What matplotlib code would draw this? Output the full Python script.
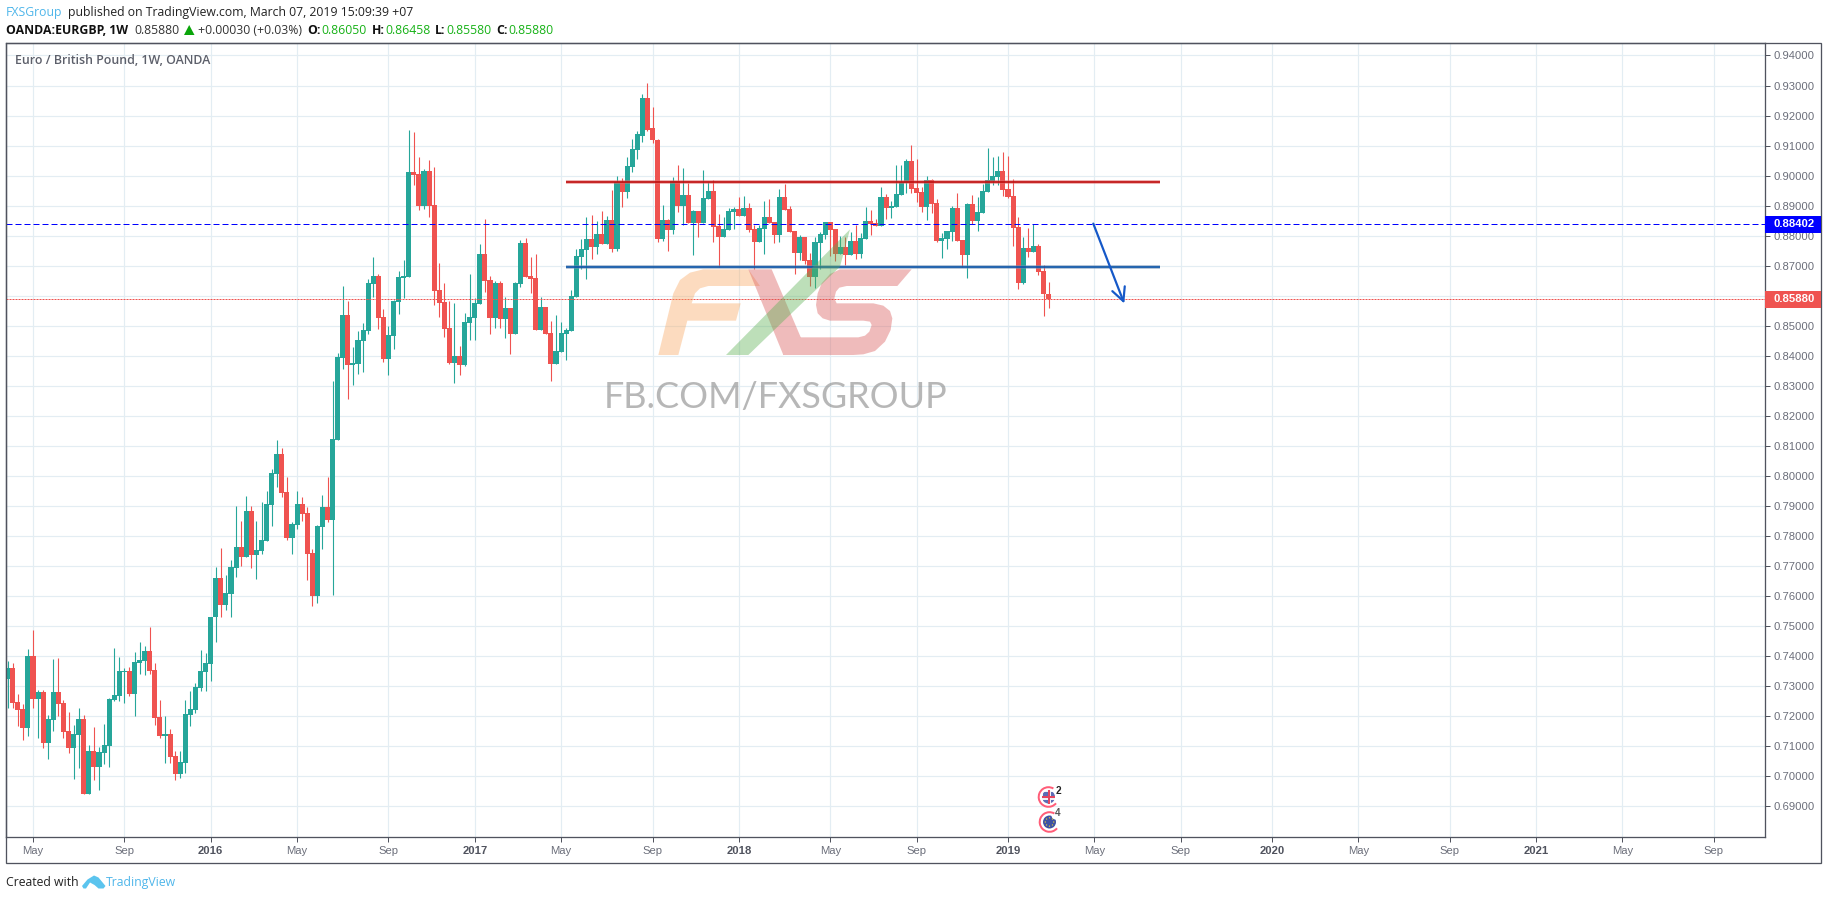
import matplotlib
matplotlib.use("Agg")
import numpy as np
import matplotlib.pyplot as plt
from matplotlib.patches import Polygon, Rectangle, Circle, Wedge, PathPatch
from matplotlib.path import Path
from matplotlib.transforms import Affine2D

# Weekly EURGBP candles
opens = [
    .7322, .7359, .7246, .7222, .7159, .7399, .7256, .7279, .7109, .7186,
    .7279, .7242, .7149, .7092, .7136, .7189, .6939, .7082, .7029, .7076,
    .7099, .7252, .7266, .7347, .7349, .7272, .7376, .7382, .7416, .7352,
    .7196, .7132, .7139, .7066, .7006, .7042, .7202, .7219, .7292, .7346,
    .7372, .7528, .7659, .7569, .7606, .7692, .7762, .7729, .7882, .7736,
    .7749, .7782, .7902, .8006, .8072, .7946, .7792, .7836, .7906, .7876,
    .7742, .7599, .7829, .7896, .7852, .8119, .8392, .8536, .8369, .8372,
    .8449, .8482, .8639, .8666, .8529, .8389, .8466, .8579, .8659, .8662,
    .9012, .9006, .8899, .9016, .8902, .8619, .8579, .8492, .8376, .8399,
    .8369, .8509, .8526, .8572, .8739, .8652, .8526, .8642, .8522, .8559,
    .8472, .8639, .8776, .8666, .8659, .8486, .8562, .8476, .8372, .8412,
    .8472, .8482, .8596, .8729, .8752, .8789, .8762, .8806, .8772, .8852,
    .8756, .8979, .8946, .9029, .9086, .9133, .9257, .9157, .9120, .8789,
    .8852, .8819, .8982, .8899, .8936, .8842, .8882, .8842, .8922, .8949,
    .8832, .8796, .8819, .8879, .8889, .8866, .8892, .8822, .8779, .8822,
    .8862, .8846, .8802, .8929, .8889, .8816, .8742, .8796, .8719, .8662,
    .8776, .8802, .8846, .8822, .8739, .8762, .8736, .8782, .8739, .8789,
    .8849, .8842, .8832, .8929, .8892, .8896, .8936, .8976, .9049, .8959,
    .8946, .8896, .8986, .8909, .8782, .8789, .8812, .8892, .8786, .8736,
    .8906, .8849, .8876, .8946, .8982, .8996, .9016, .8956, .8932, .8829,
    .8642, .8759, .8746, .8766, .8682, .8605,
]
closes = [
    .7359, .7243, .7219, .7159, .7399, .7256, .7279, .7109, .7189, .7279,
    .7239, .7146, .7092, .7139, .7189, .6939, .7082, .7029, .7079, .7102,
    .7256, .7269, .7349, .7349, .7272, .7379, .7386, .7416, .7349, .7192,
    .7132, .7139, .7062, .7006, .7046, .7206, .7222, .7296, .7349, .7376,
    .7529, .7659, .7569, .7609, .7696, .7762, .7729, .7882, .7736, .7752,
    .7786, .7906, .8009, .8072, .7942, .7792, .7839, .7906, .7872, .7739,
    .7599, .7832, .7896, .7852, .8122, .8396, .8536, .8369, .8376, .8452,
    .8486, .8642, .8664, .8526, .8389, .8469, .8582, .8662, .8666, .9012,
    .9002, .8899, .9016, .8899, .8616, .8576, .8489, .8376, .8399, .8369,
    .8512, .8529, .8576, .8739, .8649, .8526, .8642, .8522, .8559, .8472,
    .8642, .8776, .8662, .8656, .8486, .8562, .8472, .8372, .8416, .8476,
    .8486, .8599, .8732, .8756, .8789, .8762, .8806, .8772, .8852, .8756,
    .8979, .8946, .9032, .9089, .9139, .9257, .9153, .9117, .8789, .8852,
    .8819, .8982, .8899, .8936, .8842, .8882, .8842, .8926, .8949, .8829,
    .8796, .8822, .8882, .8889, .8866, .8892, .8819, .8779, .8826, .8862,
    .8842, .8802, .8929, .8886, .8812, .8742, .8796, .8716, .8662, .8779,
    .8806, .8846, .8819, .8739, .8762, .8736, .8782, .8739, .8792, .8849,
    .8839, .8832, .8929, .8892, .8899, .8939, .8979, .9049, .8956, .8942,
    .8896, .8986, .8906, .8782, .8792, .8816, .8892, .8782, .8736, .8906,
    .8849, .8879, .8949, .8986, .8999, .9016, .8952, .8929, .8826, .8642,
    .8759, .8746, .8766, .8679, .8606, .8588,
]
highs = [
    .7382, .7378, .7272, .7239, .7422, .7486, .7286, .7286, .7202, .7389,
    .7392, .7252, .7212, .7169, .7226, .7202, .7102, .7162, .7096, .7172,
    .7261, .7426, .7396, .7359, .7362, .7412, .7446, .7432, .7496, .7376,
    .7252, .7199, .7156, .7082, .7082, .7252, .7282, .7309, .7419, .7409,
    .7529, .7696, .7759, .7669, .7719, .7899, .7849, .7932, .7899, .7849,
    .7912, .7949, .8022, .8119, .8092, .7996, .7846, .7949, .7929, .7896,
    .7756, .7836, .7936, .7996, .8316, .8409, .8631, .8582, .8429, .8482,
    .8509, .8656, .8729, .8672, .8556, .8499, .8586, .8682, .8719, .9152,
    .9146, .9062, .9022, .9052, .9029, .8709, .8642, .8582, .8576, .8432,
    .8542, .8672, .8592, .8772, .8856, .8666, .8649, .8649, .8596, .8559,
    .8646, .8786, .8792, .8729, .8739, .8596, .8562, .8516, .8536, .8512,
    .8492, .8619, .8756, .8789, .8862, .8869, .8849, .8882, .8866, .8952,
    .8999, .8992, .9062, .9122, .9150, .9273, .9307, .9227, .9123, .8902,
    .8856, .8996, .9036, .9026, .8976, .8886, .8882, .9019, .8979, .8986,
    .8872, .8862, .8892, .8896, .8929, .8932, .8909, .8836, .8836, .8916,
    .8922, .8846, .8956, .8972, .8899, .8816, .8802, .8796, .8742, .8796,
    .8812, .8846, .8846, .8822, .8799, .8796, .8812, .8836, .8809, .8896,
    .8886, .8856, .8962, .8939, .8916, .9036, .9036, .9056, .9102, .9056,
    .8962, .8999, .8989, .8922, .8809, .8816, .8899, .8942, .8786, .8909,
    .8936, .8929, .8972, .9092, .9062, .9066, .9079, .9066, .8989, .8862,
    .8796, .8826, .8839, .8772, .8702, .8646,
]
lows = [
    .7228, .7226, .7166, .7119, .7132, .7226, .7126, .7092, .7056, .7149,
    .7199, .7126, .7076, .6989, .7026, .6939, .6939, .6986, .6952, .7039,
    .7029, .7249, .7249, .7242, .7266, .7199, .7339, .7336, .7339, .7169,
    .7126, .7042, .7042, .6986, .6992, .7009, .7166, .7209, .7282, .7282,
    .7316, .7446, .7529, .7552, .7530, .7662, .7699, .7729, .7692, .7656,
    .7739, .7782, .7832, .7962, .7929, .7786, .7739, .7822, .7849, .7652,
    .7566, .7576, .7756, .7846, .7602, .8119, .8356, .8256, .8302, .8339,
    .8346, .8472, .8596, .8489, .8379, .8336, .8422, .8539, .8591, .8662,
    .8969, .8886, .8889, .8862, .8569, .8529, .8462, .8372, .8309, .8336,
    .8366, .8452, .8452, .8572, .8612, .8472, .8492, .8492, .8459, .8406,
    .8472, .8629, .8662, .8609, .8486, .8486, .8472, .8316, .8372, .8412,
    .8386, .8482, .8596, .8689, .8656, .8722, .8739, .8772, .8772, .8746,
    .8749, .8896, .8926, .9012, .9056, .9113, .9150, .9110, .8779, .8782,
    .8749, .8806, .8879, .8836, .8842, .8736, .8796, .8842, .8922, .8779,
    .8696, .8796, .8819, .8822, .8866, .8866, .8812, .8689, .8779, .8739,
    .8842, .8776, .8778, .8886, .8812, .8672, .8719, .8706, .8632, .8626,
    .8689, .8789, .8732, .8716, .8739, .8702, .8736, .8722, .8726, .8789,
    .8802, .8832, .8832, .8856, .8859, .8896, .8936, .8942, .8942, .8912,
    .8879, .8852, .8876, .8779, .8726, .8756, .8782, .8782, .8696, .8659,
    .8839, .8816, .8876, .8946, .8969, .8969, .8932, .8926, .8766, .8622,
    .8639, .8729, .8746, .8669, .8532, .8558,
]

# Axis ticks, x in weeks from the first candle
x_ticks = [5, 23, 40, 57, 75, 92, 109, 127, 144, 162, 179, 197, 214, 231, 249, 266, 284, 301, 318, 336]
x_labels = ["May", "Sep", "2016", "May", "Sep", "2017", "May", "Sep", "2018", "May", "Sep", "2019",
            "May", "Sep", "2020", "May", "Sep", "2021", "May", "Sep"]
y_ticks = [0.69, 0.70, 0.71, 0.72, 0.73, 0.74, 0.75, 0.76, 0.77, 0.78, 0.79, 0.80, 0.81,
           0.82, 0.83, 0.84, 0.85, 0.86, 0.87, 0.88, 0.89, 0.90, 0.91, 0.92, 0.93, 0.94]

# Levels and drawings on the chart
resistance = 0.8978
support = 0.8694
dash_level = 0.88402
last_price = 0.85880
box_start, box_end = 110.0, 227.0
arrow_start = (213.8, 0.8840)
arrow_end = (219.9, 0.8574)

W, H = 1828, 900
UP, DOWN = "#26a69a", "#ef5350"
FRAME = "#50535e"
GRID = "#e3edf3"

def px(n):
    return n * 0.72

plt.rcParams["font.family"] = ["Liberation Sans", "DejaVu Sans"]
fig = plt.figure(figsize=(W / 100, H / 100), dpi=100, facecolor="white")
ax = fig.add_axes([6 / W, 1 - 836.5 / H, (1764.5 - 6) / W, (836.5 - 43) / H])
# pixel coordinates of the picture, y going down, for the decoration
pix = Affine2D().scale(1 / W, -1 / H).translate(0, 1) + fig.transFigure

opens = np.array(opens)
closes = np.array(closes)
highs = np.array(highs)
lows = np.array(lows)
weeks = np.arange(len(opens))
colors = np.where(closes >= opens, UP, DOWN)

ax.vlines(weeks, lows, highs, colors=colors, lw=px(1.1), zorder=3)
ax.bar(weeks, np.abs(closes - opens), bottom=np.minimum(opens, closes), width=1.0,
       color=colors, lw=0, zorder=3.1)

ax.set_xlim(-0.315, 345.98)
ax.set_ylim(0.67984, 0.94416)
ax.set_xticks(x_ticks)
ax.set_xticklabels(x_labels)
ax.set_yticks(y_ticks)
ax.set_yticklabels(["%.5f" % v for v in y_ticks])
ax.yaxis.tick_right()
ax.grid(True, color=GRID, lw=px(1.2), zorder=0)
ax.set_axisbelow(True)
ax.tick_params(axis="both", length=px(5), width=px(1), color=FRAME)
ax.tick_params(axis="y", labelsize=px(11.3), labelcolor="#6b6e7a", pad=px(4))
ax.tick_params(axis="x", labelsize=px(11.3), labelcolor="#6b6e7a", pad=px(5))
for lab in ax.get_xticklabels():
    if lab.get_text().isdigit():
        lab.set_fontweight("bold")
        lab.set_color("#50535e")
for side in ax.spines.values():
    side.set_color(FRAME)
    side.set_linewidth(px(1.3))

# Horizontal levels
ax.axhline(dash_level, color="#0000ff", lw=px(1), dashes=(6, 3), zorder=4)
ax.axhline(last_price, color=DOWN, lw=px(1), dashes=(2, 1), zorder=4)
ax.plot([box_start, box_end], [resistance] * 2, color="#e06a6a", alpha=0.5, lw=px(4),
        solid_capstyle="butt", zorder=4)
ax.plot([box_start, box_end], [resistance] * 2, color="#bf0f0f", lw=px(1.7), solid_capstyle="butt", zorder=4.1)
ax.plot([box_start, box_end], [support] * 2, color="#6f8fb5", alpha=0.5, lw=px(4),
        solid_capstyle="butt", zorder=4)
ax.plot([box_start, box_end], [support] * 2, color="#0f56a8", lw=px(1.7), solid_capstyle="butt", zorder=4.1)
ax.annotate("", xy=arrow_end, xytext=arrow_start, zorder=4.2,
            arrowprops=dict(arrowstyle="->", color="#1558c8", lw=px(2.2), mutation_scale=24,
                            shrinkA=0, shrinkB=0))

# FXS watermark, points with origin at (640, 250), scale 3
def wm(points):
    return [(640 + a / 3, 250 + b / 3) for a, b in points]

f_shape = wm([(55, 315), (100, 130), (120, 90), (150, 68), (190, 58), (325, 58), (360, 108), (205, 108),
              (180, 115), (165, 130), (155, 160), (302, 160), (288, 212), (142, 212), (115, 315)])
x_shape = wm([(325, 58), (395, 58), (505, 315), (430, 315)])
s_shape = wm([(815, 58), (772, 108), (620, 108), (598, 113), (588, 125), (583, 145), (590, 160), (700, 160),
              (730, 167), (750, 183), (757, 205), (752, 240), (735, 275), (705, 303), (670, 313), (640, 315),
              (430, 315), (480, 262), (655, 262), (675, 257), (688, 245), (695, 225), (690, 215), (670, 212),
              (570, 212), (548, 205), (533, 190), (528, 165), (533, 130), (545, 100), (570, 72), (600, 58)])
green_shape = wm([(258, 315), (325, 315), (600, 50), (630, -62)])

ax.add_patch(Polygon(f_shape, closed=True, transform=pix, fc="#f8a761", ec="none", alpha=0.4, zorder=6))
verts = x_shape + [x_shape[0]] + s_shape + [s_shape[0]]
codes = ([Path.MOVETO] + [Path.LINETO] * (len(x_shape) - 1) + [Path.CLOSEPOLY]
         + [Path.MOVETO] + [Path.LINETO] * (len(s_shape) - 1) + [Path.CLOSEPOLY])
ax.add_patch(PathPatch(Path(verts, codes), transform=pix, fc="#d95757", ec="none", alpha=0.4, zorder=6))
ax.add_patch(Polygon(green_shape, closed=True, transform=pix, fc="#5aaf52", ec="none", alpha=0.4, zorder=6.1))
ax.text(776, 397.5, "FB.COM/FXSGROUP", transform=pix, family=["Lato", "DejaVu Sans"], fontsize=px(36),
        color="#8c8c8c", alpha=0.62, ha="center", va="center", zorder=6)

# Chart caption
ax.text(15, 60.7, "Euro / British Pound, 1W, OANDA", transform=pix, family=["Open Sans", "DejaVu Sans"],
        fontsize=px(12.4), color="#5d606b", fontweight="semibold", va="center", zorder=7)

# Event markers under the last candles
ring = "#ff5d78"
ux, uy = 1048.5, 797
ex, ey = 1049.5, 822
uk_face = Circle((ux, uy), 6.5, transform=pix, fc="#eef0f6", ec="none", zorder=7)
ax.add_patch(uk_face)
for a, b in [(ux - 5.5, uy - 5), (ux + 2.5, uy - 5), (ux - 5.5, uy + 3), (ux + 2.5, uy + 3)]:
    blue = Rectangle((a, b), 5, 4.5, transform=pix, fc="#5c6db5", ec="none", zorder=7.1)
    ax.add_patch(blue)
    blue.set_clip_path(uk_face)
ax.add_patch(Rectangle((ux - 1, uy - 7), 2, 14, transform=pix, fc="#e4455f", ec="none", zorder=7.2))
ax.add_patch(Rectangle((ux - 6.5, uy - 1), 13, 2, transform=pix, fc="#e4455f", ec="none", zorder=7.2))
ax.add_patch(Wedge((ux, uy), 10.8, 40, 300, width=2, transform=pix, fc=ring, ec="none", zorder=7.3))
ax.add_patch(Circle((ex, ey), 6.5, transform=pix, fc="#3f52a3", ec="none", zorder=7))
ax.add_patch(Circle((ex + 6, ey - 6.5), 4, transform=pix, fc="white", ec="none", zorder=7.1))
for ang in np.deg2rad(np.arange(0, 360, 45)):
    ax.add_patch(Circle((ex + 4.2 * np.cos(ang), ey + 4.2 * np.sin(ang)), 0.7, transform=pix,
                        fc="#d9c23a", ec="none", zorder=7.2))
ax.add_patch(Wedge((ex, ey), 10.8, 40, 300, width=2, transform=pix, fc=ring, ec="none", zorder=7.3))
ax.text(1058, 790.5, "2", transform=pix, fontsize=px(10), fontweight="bold", color="#222222",
        ha="center", va="center", zorder=7.4)
ax.text(1058, 813, "4", transform=pix, fontsize=px(10), fontweight="bold", color="#555555",
        ha="center", va="center", zorder=7.4)

# Outer frame and price labels
fig.add_artist(Rectangle((6, 43), 1815, 820, transform=pix, fc="none", ec=FRAME, lw=px(1.3), zorder=4))
for top, label, face in [(216, "%.5f" % dash_level, "#0000ff"), (291, "%.5f" % last_price, DOWN)]:
    fig.add_artist(Rectangle((1764.5, top), 56.5, 16.7, transform=pix, fc=face, ec="none", zorder=5))
    fig.text(1773, top + 8.3, label, transform=pix, color="white", fontsize=px(11.3), fontweight="bold",
             va="center", zorder=6)

# Header lines
head = ["Open Sans", "DejaVu Sans"]
BLUE_TXT = "#4fb6ea"
GREEN_TXT = "#17b217"
HEAD_SIZE = px(12.3)
fig.text(6, 12.7, "FXSGroup", transform=pix, color=BLUE_TXT, family=head, fontsize=HEAD_SIZE, va="center")
fig.text(68, 12.7, "published on TradingView.com, March 07, 2019 15:09:39 +07", transform=pix, color="#222222",
         family=head, fontsize=HEAD_SIZE, va="center")
header_bits = [
    (6, "OANDA:EURGBP, 1W", "#111111", "bold"),
    (134.4, "0.85880", "#333333", "normal"),
    (197.6, "+0.00030 (+0.03%)", "#333333", "normal"),
    (307.5, "O:", "#111111", "bold"),
    (321, "0.86050", GREEN_TXT, "normal"),
    (371.5, "H:", "#111111", "bold"),
    (385.4, "0.86458", GREEN_TXT, "normal"),
    (435, "L:", "#111111", "bold"),
    (446.6, "0.85580", GREEN_TXT, "normal"),
    (496, "C:", "#111111", "bold"),
    (508, "0.85880", GREEN_TXT, "normal"),
]
for x, s, c, w in header_bits:
    fig.text(x, 30, s, transform=pix, color=c, fontweight=w, family=head, fontsize=HEAD_SIZE, va="center")
fig.add_artist(Polygon([(184, 35), (194.5, 35), (189.2, 25)], closed=True, transform=pix, fc="#0aa50a", ec="none"))

# Footer
fig.text(6, 882.7, "Created with", transform=pix, color="#222222", family=head, fontsize=HEAD_SIZE, va="center")
logo = [(82, 886), (87.5, 879.5), (94, 875.5), (98.5, 877.5), (105.5, 886), (103.5, 888.5), (98.5, 888.5),
        (94.5, 885), (90, 882.5), (86, 888.5), (83.5, 888.5)]
fig.add_artist(Polygon(logo, closed=True, transform=pix, fc="#5bc4ee", ec="none"))
fig.text(106, 882.7, "TradingView", transform=pix, color=BLUE_TXT, family=head, fontsize=HEAD_SIZE, va="center")

fig.savefig("out.png", dpi=100)
